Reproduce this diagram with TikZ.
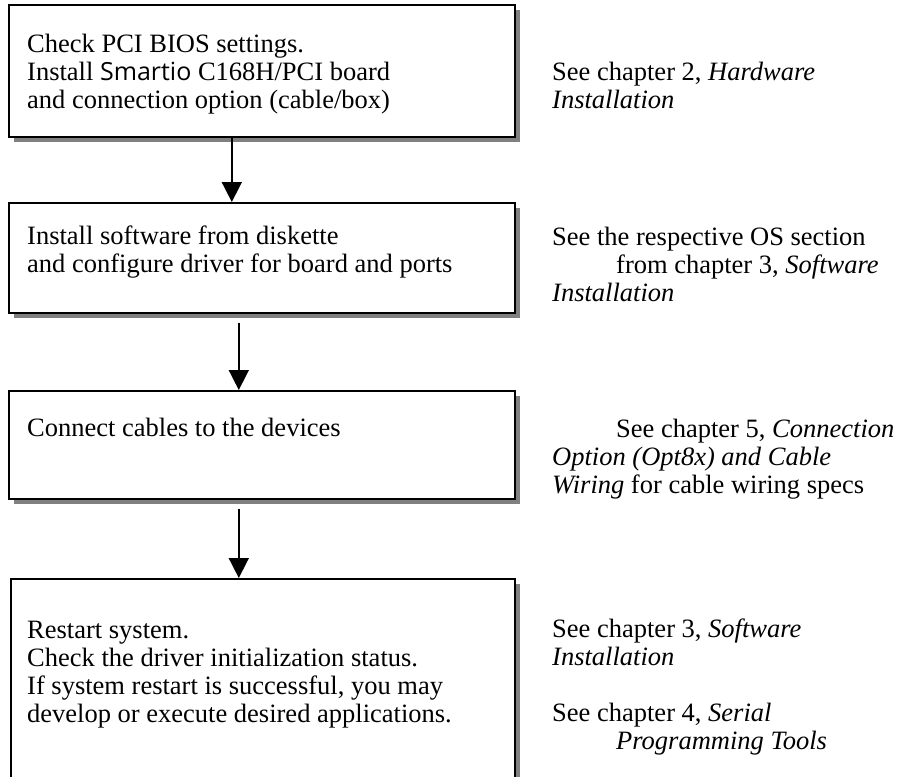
\documentclass[tikz,border=0pt]{standalone}
\usepackage{fontspec}
\setmainfont{Liberation Serif}
\newfontfamily\smartfont{Open Sans}
\usetikzlibrary{arrows.meta,shadows}

\tikzset{
  stepbox/.style={draw, line width=1.6pt, fill=white, anchor=north west, inner sep=0pt,
    drop shadow={shadow xshift=5pt, shadow yshift=-5pt, fill=black!50, opacity=1}},
  steptext/.style={anchor=base west, align=left, inner sep=0pt, font=\fontsize{26.5}{28}\selectfont},
  flowarrow/.style={line width=1.6pt, -{Triangle[length=20pt,width=20pt]}}
}

\begin{document}
\begin{tikzpicture}[x=1pt,y=-1pt]
  \useasboundingbox (0,0) rectangle (901,776);

  \def\rx{514};

  %draw boxes
  \foreach \name/\lx/\ty/\by in {b1/8/4/136, b2/8/202/312, b3/8/390/498, b4/10/578/830}{
    \pgfmathsetmacro\w{\rx-\lx}
    \pgfmathsetmacro\h{\by-\ty}
    \node[stepbox, minimum width=\w pt, minimum height=\h pt] (\name) at (\lx,\ty) {};
  }

  %steps (placed at the baseline of their last line)
  \node[steptext] (t1) at (27,108) {Check PCI BIOS settings.\\ Install {\smartfont\fontsize{25}{28}\selectfont Smartio} C168H/PCI board\\ and connection option (cable/box)};
  \node[steptext] (t2) at (27,272) {Install software from diskette\\ and configure driver for board and ports};
  \node[steptext] (t3) at (27,436) {Connect cables to the devices};
  \node[steptext] (t4) at (27,722) {Restart system.\\ Check the driver initialization status.\\ If system restart is successful, you may\\ develop or execute desired applications.};

  %references
  \node[steptext] (s1) at (552,108) {See chapter 2, \textit{Hardware}\\ \textit{Installation}};
  \node[steptext] (s2) at (552,301) {See the respective OS section\\ \hspace*{64pt}from chapter 3, \textit{Software}\\ \textit{Installation}};
  \node[steptext] (s3) at (552,493) {\hspace*{64pt}See chapter 5, \textit{Connection}\\ \textit{Option (Opt8x) and Cable}\\ \textit{Wiring} for cable wiring specs};
  \node[steptext] (s4) at (552,749) {See chapter 3, \textit{Software}\\ \textit{Installation}\\[28pt] See chapter 4, \textit{Serial}\\ \hspace*{64pt}\textit{Programming Tools}};

  %arrows
  \draw[flowarrow] ([xshift=-30pt]b1.south) -- ([xshift=-30pt]b1.south |- b2.north);
  \draw[flowarrow] ([xshift=-23pt,yshift=-9pt]b2.south) -- ([xshift=-23pt]b2.south |- b3.north);
  \draw[flowarrow] ([xshift=-23pt,yshift=-9pt]b3.south) -- ([xshift=-23pt]b3.south |- b4.north);

\end{tikzpicture}
\end{document}
